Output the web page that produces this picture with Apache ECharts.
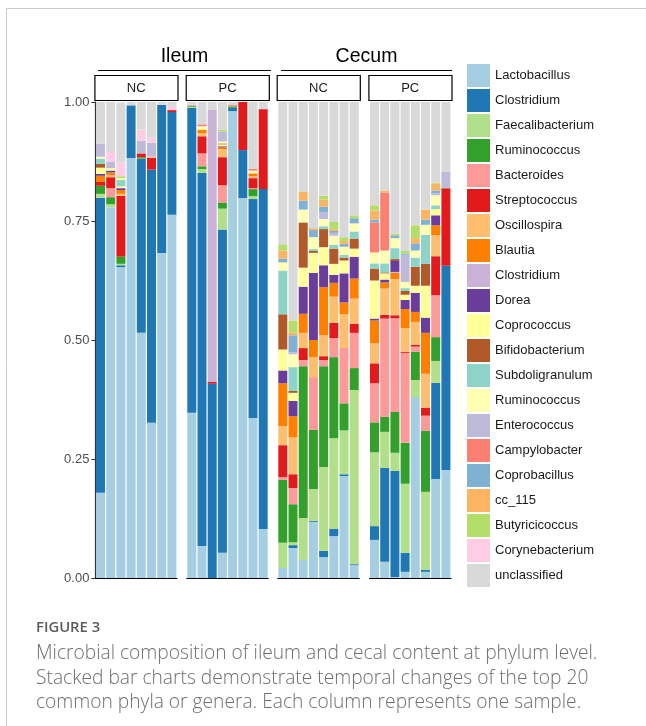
<!DOCTYPE html>
<html>
<head>
<meta charset="utf-8">
<script src="https://cdn.jsdelivr.net/npm/echarts@6/dist/echarts.min.js"></script>
<style>
html,body{margin:0;padding:0;background:#fff;}
#chart{width:646px;height:726px;}
</style>
</head>
<body>
<div id="chart"></div>
<script>
// ---- DATA ----
const panels = ['Ileum NC', 'Ileum PC', 'Cecum NC', 'Cecum PC'];
const samples = ['S1', 'S2', 'S3', 'S4', 'S5', 'S6', 'S7', 'S8'];
const genera = ['Lactobacillus','Clostridium','Faecalibacterium','Ruminococcus','Bacteroides','Streptococcus','Oscillospira','Blautia','Clostridium','Dorea','Coprococcus','Bifidobacterium','Subdoligranulum','Ruminococcus','Enterococcus','Campylobacter','Coprobacillus','cc_115','Butyricicoccus','Corynebacterium','unclassified'];
const colors = ['#A6CEE3','#1F78B4','#B2DF8A','#33A02C','#FB9A99','#E31A1C','#FDBF6F','#FF7F00','#CAB2D6','#6A3D9A','#FFFF99','#B15928','#8DD3C7','#FFFFB3','#BEBADA','#FB8072','#80B1D3','#FDB462','#B3DE69','#FCCDE5','#D9D9D9'];
const yTicks = [0, 0.25, 0.5, 0.75, 1];

// values per genus: 32 samples = Ileum NC(8), Ileum PC(8), Cecum NC(8), Cecum PC(8)
const lactobacillus   = [.179,.779,.653,.882,.515,.326,.683,.763, .347,.067,0,.053,.981,.798,.336,.103, .021,.063,.038,.118,.044,.088,.214,.027, .080,.034,.002,.013,.380,.013,.208,.227];
const clostridium     = [.620,0,.004,.111,.366,.532,.311,.216, .641,.784,.408,.679,.007,.101,.460,.714, 0,.006,0,.002,.013,.015,.004,.002, .029,.197,.223,.040,0,.004,.202,.429];
const faecalibacterium= [.008,.006,.003,0,0,0,0,0, .002,.008,0,.044,0,0,.006,0, .053,.006,.088,.067,.176,.191,.092,.366, .155,.076,.038,.145,.036,.164,.046,0];
const ruminococcus    = [.017,.015,.015,0,.003,0,0,0, .002,.006,0,.013,.003,0,.015,0, .132,.080,.319,.124,.212,.170,.057,.046, .063,.032,.086,.086,.059,.128,.050,0];
const bacteroides     = [0,.019,0,0,0,0,0,0, .002,.027,0,.036,.004,0,.002,0, .006,.034,.013,.111,.013,.040,.116,.074, .082,.206,.197,.189,.011,.032,.088,0];
const streptococcus   = [.008,.023,.128,0,.008,.025,0,.004, 0,.036,.004,.059,0,.101,.021,.168, .067,.029,.025,0,.008,.032,0,.019, .042,.008,.006,.002,.004,.017,.082,.162];
const oscillospira    = [0,.004,.004,0,0,.002,0,0, 0,.006,0,.017,0,0,.004,0, .040,.078,.032,.042,.044,.055,.071,.053, .042,.055,.076,.050,.048,.071,.044,0];
const blautia         = [.013,.006,.008,0,0,0,0,0, 0,.008,0,.004,0,0,.006,0, .090,.044,.040,.036,.101,.029,.025,.042, .048,.013,.013,.040,.021,.086,.021,0];
const clostridium2    = [0,0,0,0,0,0,0,0, 0,0,.571,0,0,0,0,0, 0,0,0,0,0,0,0,0, 0,0,.002,0,0,0,0,0];
const dorea           = [.004,.004,.004,0,0,0,0,0, 0,0,0,.002,0,0,0,0, .027,.032,.057,.141,.046,.017,.061,.046, .004,.006,.023,.019,.040,.032,.021,0];
const coprococcus     = [.013,.005,.004,0,0,0,0,0, 0,.004,0,.004,0,0,.004,0, .044,.017,.040,.042,.038,.023,.027,.017, .080,.013,0,.011,.015,.067,.013,0];
const bifidobacterium = [.008,0,0,0,0,0,0,0, 0,0,0,.002,0,0,0,0, .074,.004,.095,.004,.038,.032,.006,.021, .025,.002,.004,.008,.040,.046,0,.002];
const subdoligranulum = [.011,0,.013,0,0,0,0,0, 0,0,0,0,0,0,0,0, .092,.050,0,.004,.006,.008,.006,.015, .011,.019,.023,.006,.019,.061,.008,0];
const ruminococcus2   = [.004,0,.004,0,0,0,0,0, 0,.003,0,.004,0,0,.002,0, .017,.027,.027,.025,.015,.019,.017,.017, .023,.027,.021,.013,.015,.021,.021,0];
const enterococcus    = [.027,.013,0,0,.027,.029,0,0, 0,0,0,.021,0,0,0,0, 0,.004,0,0,.015,.006,0,0, 0,0,0,.057,0,0,.004,.034];
const campylobacter   = [0,0,0,0,0,0,0,0, 0,.004,0,0,0,0,.004,0, 0,0,0,0,0,0,0,0, .063,.122,0,0,0,0,0,0];
const coprobacillus   = [0,0,0,0,0,0,0,0, 0,0,0,0,0,0,0,0, .008,.036,.019,.015,.011,.004,.006,.011, .006,0,.006,.002,.015,.011,.006,0];
const cc115           = [0,0,0,0,0,0,0,0, 0,0,0,0,0,0,0,0, .017,.006,.019,.004,.015,.004,.006,0, .019,.004,0,0,.011,.021,.015,0];
const butyricicoccus  = [0,0,.004,0,0,0,0,0, 0,0,0,.004,0,0,0,0, .013,.025,0,0,.008,.015,.008,.006, .011,0,.004,.006,.027,0,.002,0];
const corynebacterium = [0,.021,.029,0,.023,.011,.002,.008, 0,0,0,0,0,0,0,0, 0,0,0,0,0,0,0,0, 0,0,0,0,0,0,0,0];
const unclassified    = [.088,.105,.126,.007,.058,.075,.004,.009, .006,.047,.017,.058,.005,0,.140,.015, .299,.459,.188,.265,.197,.252,.284,.238, .217,.186,.276,.313,.259,.226,.169,.146];

const values = [lactobacillus, clostridium, faecalibacterium, ruminococcus, bacteroides, streptococcus, oscillospira, blautia, clostridium2, dorea, coprococcus, bifidobacterium, subdoligranulum, ruminococcus2, enterococcus, campylobacter, coprobacillus, cc115, butyricicoccus, corynebacterium, unclassified];

// ---- LAYOUT ----
const gridLefts = [95.4, 186.7, 277.7, 369.4];
const gridW = 81.6, gridTop = 102, gridH = 476;
const font = 'Liberation Sans, Arial, sans-serif';

// unique series names (two genera names appear twice in the legend)
const seen = {};
const seriesNames = genera.map(g => { seen[g] = (seen[g] || 0) + 1; return seen[g] > 1 ? g + ' #' + seen[g] : g; });

const grids = [], xAxes = [], yAxes = [], series = [];
panels.forEach((p, pi) => {
  grids.push({ left: gridLefts[pi], top: gridTop, width: gridW, height: gridH, outerBoundsMode: 'none', containLabel: false });
  xAxes.push({ type: 'category', gridIndex: pi, data: samples, boundaryGap: true,
    axisLine: { show: true, lineStyle: { color: '#000', width: 1 } },
    axisTick: { show: false }, axisLabel: { show: false }, splitLine: { show: false } });
  yAxes.push({ type: 'value', gridIndex: pi, min: yTicks[0], max: yTicks[yTicks.length - 1], interval: 0.25,
    show: pi === 0,
    axisLine: { show: true, lineStyle: { color: '#333', width: 1.2 } },
    axisTick: { show: true, length: 4, lineStyle: { color: '#333', width: 1 } },
    axisLabel: { show: true, fontSize: 13, color: '#4d4d4d', fontFamily: font, margin: 6, formatter: v => v.toFixed(2) },
    splitLine: { show: false } });
  values.forEach((arr, gi) => {
    series.push({
      type: 'bar', name: seriesNames[gi], stack: 'panel' + pi,
      xAxisIndex: pi, yAxisIndex: pi,
      data: arr.slice(pi * 8, pi * 8 + 8),
      barWidth: 9,
      itemStyle: { color: colors[gi] },
      emphasis: { disabled: true },
      silent: true
    });
  });
});

const graphics = [];
graphics.push({ type: 'rect', shape: { x: 6.5, y: 8.5, width: 700, height: 800 }, style: { fill: 'none', stroke: '#cccccc', lineWidth: 1 }, z: 0 });
// group headers
const groups = [{ t: 'Ileum', x1: 98, x2: 271 }, { t: 'Cecum', x1: 281, x2: 452 }];
groups.forEach(g => {
  graphics.push({ type: 'text', x: (g.x1 + g.x2) / 2, y: 57, style: { text: g.t, fontSize: 19.5, fontFamily: font, fill: '#000', align: 'center', verticalAlign: 'middle' } });
  graphics.push({ type: 'line', shape: { x1: g.x1, y1: 70.5, x2: g.x2, y2: 70.5 }, style: { stroke: '#000', lineWidth: 1.2 } });
});
// strip boxes
const stripLabels = ['NC', 'PC', 'NC', 'PC'];
gridLefts.forEach((l, i) => {
  graphics.push({ type: 'rect', shape: { x: l - 0.5, y: 75.5, width: gridW + 1.5, height: 25 }, style: { fill: '#fff', stroke: '#000', lineWidth: 1.2 } });
  graphics.push({ type: 'text', x: l + gridW / 2, y: 88, style: { text: stripLabels[i], fontSize: 13, fontFamily: font, fill: '#1a1a1a', align: 'center', verticalAlign: 'middle' } });
});
// caption
graphics.push({ type: 'text', x: 36, y: 628, style: { text: 'FIGURE 3', fontSize: 14.8, fontWeight: 600, fontFamily: 'Open Sans, sans-serif', fill: '#5a5b5d', verticalAlign: 'middle' } });
const captionLines = ['Microbial composition of ileum and cecal content at phylum level.', 'Stacked bar charts demonstrate temporal changes of the top 20', 'common phyla or genera. Each column represents one sample.'];
captionLines.forEach((t, i) => {
  graphics.push({ type: 'text', x: 36, y: 654 + i * 24.5, style: { text: t, fontSize: 19.2, fontWeight: 300, fontFamily: 'Open Sans, sans-serif', fill: '#6d6e71', verticalAlign: 'middle' } });
});

const chart = echarts.init(document.getElementById('chart'), null, { renderer: 'canvas' });
chart.setOption({
  animation: false,
  backgroundColor: '#fff',
  textStyle: { fontFamily: font },
  grid: grids, xAxis: xAxes, yAxis: yAxes, series: series,
  legend: {
    orient: 'vertical', left: 462, top: 59, itemWidth: 23, itemHeight: 23, itemGap: 2,
    icon: 'rect', selectedMode: false, data: seriesNames,
    formatter: n => n.replace(/ #\d+$/, ''),
    textStyle: { fontSize: 13, color: '#1a1a1a', fontFamily: font }
  },
  graphic: graphics
});
</script>
</body>
</html>
